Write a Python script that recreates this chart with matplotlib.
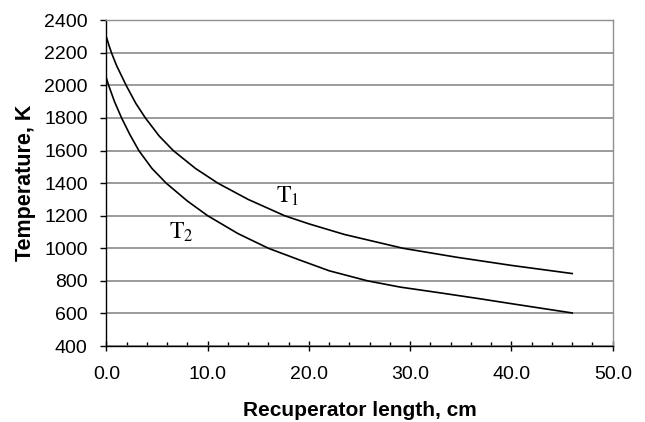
import matplotlib
matplotlib.use("Agg")
import matplotlib.pyplot as plt
from matplotlib.ticker import MultipleLocator, FormatStrFormatter

# values
x_t1 = [0, 0.25, 0.5, 1.0, 1.95, 2.9, 3.85, 5.2, 6.6, 8.8, 11.0, 14.0, 17.6, 20.0, 23.5, 29.3, 34.6, 40.0, 46.0]
t1 = [2296, 2246, 2200, 2122, 2000, 1890, 1800, 1690, 1600, 1490, 1400, 1300, 1200, 1150, 1085, 1000, 945, 895, 845]

x_t2 = [0, 0.22, 0.8, 1.5, 2.3, 3.2, 4.5, 5.9, 8.0, 10.0, 13.0, 16.0, 19.0, 22.0, 25.8, 29.0, 32.9, 36.9, 40.0, 46.0]
t2 = [2044, 2000, 1900, 1800, 1700, 1600, 1490, 1400, 1290, 1200, 1090, 1000, 930, 862, 800, 762, 727, 690, 660, 603]

label_pos = {"T1": (17.9, 1322), "T2": (7.4, 1100)}

plt.rcParams['font.family'] = ['Liberation Sans', 'DejaVu Sans']
plt.rcParams['mathtext.fontset'] = 'stix'

fig = plt.figure(figsize=(6.45, 4.22), dpi=100)
ax = fig.add_axes([0.165, 0.180, 0.785, 0.772])

ax.plot(x_t1, t1, color='black', lw=1.2)
ax.plot(x_t2, t2, color='black', lw=1.2)

ax.set_xlim(0, 50)
ax.set_ylim(400, 2400)
ax.xaxis.set_major_locator(MultipleLocator(10))
ax.xaxis.set_minor_locator(MultipleLocator(2))
ax.yaxis.set_major_locator(MultipleLocator(200))
ax.xaxis.set_major_formatter(FormatStrFormatter('%.1f'))

ax.grid(axis='y', color='#808080', lw=1.1)
ax.set_axisbelow(True)
for side in ('top', 'right'):
    ax.spines[side].set_color('#909090')
    ax.spines[side].set_linewidth(1.0)
for side in ('left', 'bottom'):
    ax.spines[side].set_color('black')
    ax.spines[side].set_linewidth(1.0)

ax.tick_params(axis='x', which='major', direction='inout', length=7, width=1, labelsize=14, pad=11)
ax.tick_params(axis='x', which='minor', direction='in', length=3, width=1)
ax.tick_params(axis='y', which='major', direction='out', length=4.5, width=1, labelsize=14, pad=9)

ax.set_xlabel('Recuperator length, cm', fontsize=15, fontweight='bold', labelpad=13)
ax.set_ylabel('Temperature, K', fontsize=15.5, fontweight='bold', labelpad=6)

ax.text(*label_pos["T1"], r'$\mathrm{T}_1$', fontsize=17, ha='center', va='center')
ax.text(*label_pos["T2"], r'$\mathrm{T}_2$', fontsize=17, ha='center', va='center')

fig.savefig('out.png', dpi=100)
